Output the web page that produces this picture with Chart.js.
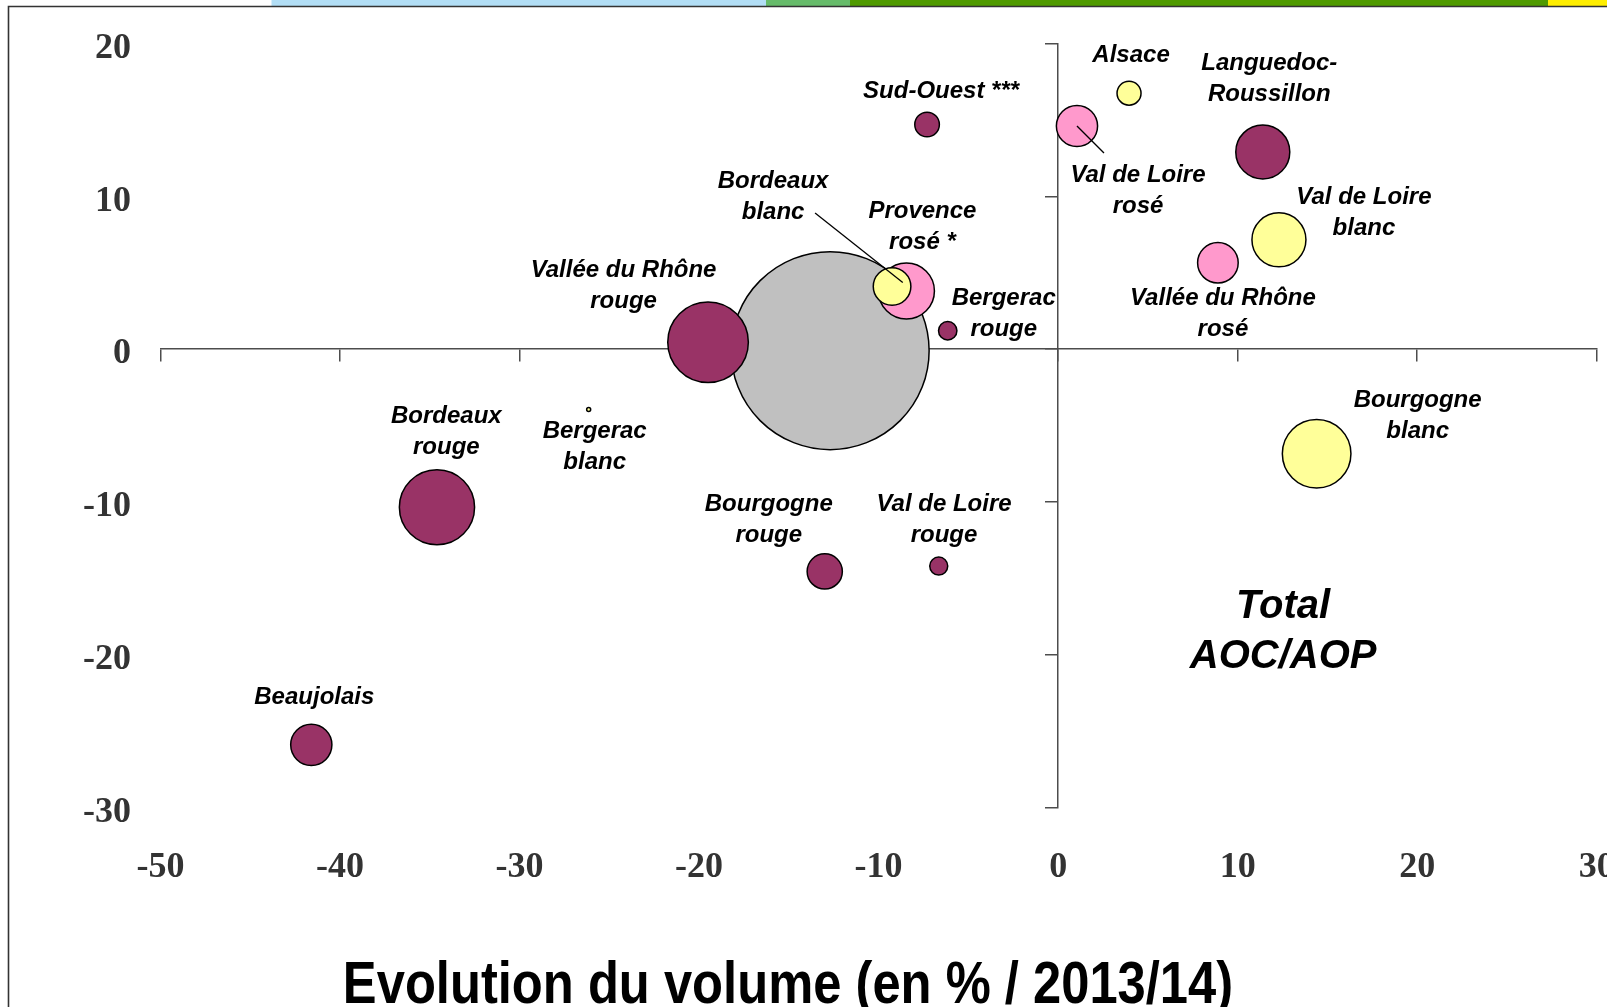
<!DOCTYPE html>
<html>
<head>
<meta charset="utf-8">
<script src="https://cdn.jsdelivr.net/npm/chart.js@4.4.0/dist/chart.umd.min.js"></script>
<style>
  html, body { margin: 0; padding: 0; background: #ffffff; overflow: hidden; }
  canvas { display: block; }
</style>
</head>
<body>
<canvas id="chart" width="1607" height="1007"></canvas>
<script>
// ---------------- DATA ----------------
const appellations = [
  "Total AOC/AOP", "Vallée du Rhône rouge", "Provence rosé *", "Bordeaux blanc",
  "Bergerac rouge", "Sud-Ouest ***", "Alsace", "Val de Loire rosé",
  "Languedoc-Roussillon", "Val de Loire blanc", "Vallée du Rhône rosé", "Bourgogne blanc",
  "Bergerac blanc", "Bordeaux rouge", "Bourgogne rouge", "Val de Loire rouge", "Beaujolais"
];
const labelLines = [
  ["Total", "AOC/AOP"], ["Vallée du Rhône", "rouge"], ["Provence", "rosé *"], ["Bordeaux", "blanc"],
  ["Bergerac", "rouge"], ["Sud-Ouest ***"], ["Alsace"], ["Val de Loire", "rosé"],
  ["Languedoc-", "Roussillon"], ["Val de Loire", "blanc"], ["Vallée du Rhône", "rosé"], ["Bourgogne", "blanc"],
  ["Bergerac", "blanc"], ["Bordeaux", "rouge"], ["Bourgogne", "rouge"], ["Val de Loire", "rouge"], ["Beaujolais"]
];
const wineColour = [
  "total", "rouge", "rose", "blanc",
  "rouge", "rouge", "blanc", "rose",
  "rouge", "blanc", "rose", "blanc",
  "blanc", "rouge", "rouge", "rouge", "rouge"
];
// Evolution du volume (en % / 2013/14)
const volumeChange = [
  -12.7, -19.5, -8.45, -9.25,
  -6.15, -7.3, 3.95, 1.05,
  11.4, 12.3, 8.9, 14.4,
  -26.15, -34.6, -13.0, -6.65, -41.6
];
// vertical axis value (en %)
const otherChange = [
  -0.1, 0.45, 3.8, 4.1,
  1.2, 14.7, 16.75, 14.6,
  12.9, 7.15, 5.65, -6.85,
  -3.95, -10.35, -14.55, -14.2, -25.9
];
// bubble size (weight of each appellation)
const bubbleSize = [
  99, 40.3, 28, 18.8,
  9.2, 12.3, 12, 20.6,
  27, 27, 20.3, 34.3,
  2, 37.6, 17.6, 9, 20.6
];
const xTickValues = [-50, -40, -30, -20, -10, 0, 10, 20, 30];
const yTickValues = [-30, -20, -10, 0, 10, 20];
const xAxisTitle = "Evolution du volume (en % / 2013/14)";

// ---------------- STYLE ----------------
const fillByColour = { rouge: "#993366", rose: "#FF99CC", blanc: "#FFFF99", total: "#C0C0C0" };
// label placement: offset (px) of the first line baseline from the bubble centre
const labelOffset = [
  [453, 267], [-84.5, -65], [16, -73.4], [-119, -98.4],
  [56, -25.7], [14, -26], [2, -31], [61, 56],
  [6.5, -82], [85, -36], [5, 42], [101, -47],
  [6, 28.3], [9.4, -84], [-56, -60], [5.3, -55], [3, -40.7]
];
const leaderLines = { 3: [[-77, -73.4], [10.7, -4]], 7: [[0, 0], [27, 27]] };
const axisGrey = "#4d4d4d";

const points = volumeChange.map((v, i) => ({ x: v, y: otherChange[i], r: bubbleSize[i] }));

const decorPlugin = {
  id: "decor",
  beforeDraw(chart) {
    const ctx = chart.ctx;
    ctx.save();
    ctx.fillStyle = "#ffffff";
    ctx.fillRect(0, 0, chart.width, chart.height);
    // top coloured band
    ctx.fillStyle = "#B2DEF5"; ctx.fillRect(271.5, 0, 494.5, 6);
    ctx.fillStyle = "#66BB6A"; ctx.fillRect(766, 0, 84, 6);
    ctx.fillStyle = "#4F9A00"; ctx.fillRect(850, 0, 698, 6);
    ctx.fillStyle = "#FFEE00"; ctx.fillRect(1548, 0, 60, 6);
    // frame
    ctx.strokeStyle = "#333333";
    ctx.lineWidth = 1.6;
    ctx.beginPath();
    ctx.moveTo(8.5, 1007); ctx.lineTo(8.5, 6.5); ctx.lineTo(1607, 6.5);
    ctx.stroke();
    ctx.restore();
  },
  afterDatasetsDraw(chart) {
    const ctx = chart.ctx;
    const els = chart.getDatasetMeta(0).data;
    ctx.save();
    ctx.fillStyle = "#000000";
    ctx.textAlign = "center";
    ctx.textBaseline = "alphabetic";
    els.forEach((el, i) => {
      const big = i === 0;
      ctx.font = big ? "italic bold 40px 'Liberation Sans', Arial, sans-serif"
                     : "italic bold 24px 'Liberation Sans', Arial, sans-serif";
      const lh = big ? 50 : 31;
      const [dx, dy] = labelOffset[i];
      labelLines[i].forEach((line, k) => {
        ctx.fillText(line, el.x + dx, el.y + dy + k * lh);
      });
      if (leaderLines[i]) {
        const [a, b] = leaderLines[i];
        ctx.strokeStyle = "#000000";
        ctx.lineWidth = 1.3;
        ctx.beginPath();
        ctx.moveTo(el.x + a[0], el.y + a[1]);
        ctx.lineTo(el.x + b[0], el.y + b[1]);
        ctx.stroke();
      }
    });
    ctx.restore();
  },
  afterDraw(chart) {
    const ctx = chart.ctx;
    ctx.save();
    ctx.fillStyle = "#000000";
    ctx.font = "bold 60px 'Liberation Sans', Arial, sans-serif";
    ctx.textAlign = "center";
    ctx.textBaseline = "alphabetic";
    ctx.translate(788, 1003);
    ctx.scale(0.845, 1);
    ctx.fillText(xAxisTitle, 0, 0);
    ctx.restore();
  }
};

const tickFont = { family: "'Liberation Serif', 'Times New Roman', serif", size: 36, weight: "bold" };

new Chart(document.getElementById("chart"), {
  type: "bubble",
  data: {
    datasets: [{
      data: points,
      backgroundColor: wineColour.map(c => fillByColour[c]),
      borderColor: "#000000",
      borderWidth: 1.5,
      clip: false
    }]
  },
  options: {
    responsive: false,
    animation: false,
    events: [],
    layout: { autoPadding: false, padding: { top: 43.5, right: 10.3, bottom: 0, left: 0 } },
    plugins: { legend: { display: false }, tooltip: { enabled: false }, title: { display: false } },
    scales: {
      x: {
        type: "linear", position: "bottom", min: -50, max: 30,
        afterBuildTicks: s => { s.ticks = xTickValues.map(v => ({ value: v })); },
        ticks: { font: tickFont, color: "#333333", padding: 39, maxRotation: 0, autoSkip: false },
        grid: { display: false, drawTicks: false },
        border: { display: false },
        afterFit: s => { s.height = 199.5; s.paddingLeft = 0; s.paddingRight = 0; }
      },
      y: {
        type: "linear", position: "left", min: -30, max: 20,
        afterBuildTicks: s => { s.ticks = yTickValues.map(v => ({ value: v })); },
        ticks: { font: tickFont, color: "#333333", padding: 29.5, labelOffset: 5, autoSkip: false },
        grid: { display: false, drawTicks: false },
        border: { display: false },
        afterFit: s => { s.width = 160.5; s.paddingTop = 0; s.paddingBottom = 0; }
      },
      xCross: {
        type: "linear", axis: "x", position: { y: 0 }, min: -50, max: 30,
        afterBuildTicks: s => { s.ticks = xTickValues.map(v => ({ value: v })); },
        ticks: { display: false },
        grid: { drawOnChartArea: false, drawTicks: true, tickLength: 12, color: axisGrey, lineWidth: 1.5 },
        border: { display: true, color: axisGrey, width: 1.5 },
        afterFit: s => { s.height = 0; s.paddingLeft = 0; s.paddingRight = 0; }
      },
      yCross: {
        type: "linear", axis: "y", position: { x: 0 }, min: -30, max: 20,
        afterBuildTicks: s => { s.ticks = yTickValues.map(v => ({ value: v })); },
        ticks: { display: false },
        grid: { drawOnChartArea: false, drawTicks: true, tickLength: 12, color: axisGrey, lineWidth: 1.5 },
        border: { display: true, color: axisGrey, width: 1.5 },
        afterFit: s => { s.width = 0; s.paddingTop = 0; s.paddingBottom = 0; }
      }
    }
  },
  plugins: [decorPlugin]
});
</script>
</body>
</html>
